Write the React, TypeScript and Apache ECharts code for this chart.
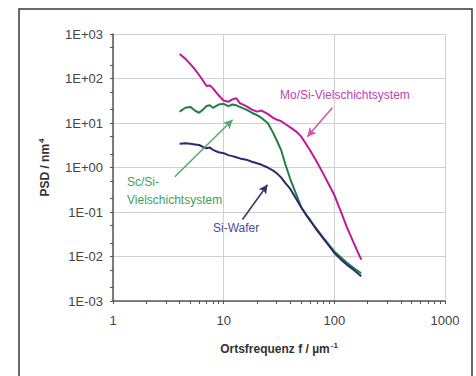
import React, { useEffect, useRef } from "react";
import * as echarts from "echarts";

const FREQ = [4, 4.5, 5, 5.5, 6, 6.5, 7, 7.5, 8, 9, 10, 11, 12, 13, 14, 16, 18, 20, 22, 25, 28, 30, 33, 36, 40, 45, 50, 55, 60, 70, 80, 90, 100, 115, 130, 150, 175];
const MO_SI = [355, 280, 210, 160, 120, 90, 68, 70, 60, 42, 32, 30, 34, 36, 28, 24, 20, 18, 19, 16, 13, 12, 11, 9.5, 8, 6.5, 5, 3.5, 2.5, 1.3, 0.7, 0.4, 0.24, 0.1, 0.045, 0.02, 0.0085];
const SC_SI = [18, 22, 23, 19, 17, 20, 24, 25, 22, 26, 27, 24, 26, 25, 23, 20, 17, 15, 13, 10, 6, 4.2, 2.5, 1.2, 0.55, 0.26, 0.13, 0.09, 0.065, 0.04, 0.026, 0.018, 0.013, 0.0095, 0.0072, 0.0055, 0.0042];
const SI_WAFER = [3.4, 3.5, 3.4, 3.3, 3.2, 2.9, 2.7, 2.8, 2.5, 2.2, 2.1, 1.9, 1.8, 1.7, 1.6, 1.5, 1.35, 1.25, 1.15, 1.0, 0.85, 0.75, 0.6, 0.45, 0.33, 0.2, 0.13, 0.09, 0.068, 0.038, 0.025, 0.017, 0.012, 0.0085, 0.0065, 0.005, 0.0036];

const X_MIN = 1, X_MAX = 1000, Y_MIN = 0.001, Y_MAX = 1000;
const X_TICKS = [1, 2, 3, 4, 5, 6, 7, 8, 9, 10, 20, 30, 40, 50, 60, 70, 80, 90, 100, 200, 300, 400, 500, 600, 700, 800, 900, 1000];
const Y_TICKS = [0.001, 0.002, 0.005, 0.01, 0.02, 0.05, 0.1, 0.2, 0.5, 1, 2, 5, 10, 20, 50, 100, 200, 500, 1000];
const X_LABELS = [1, 10, 100, 1000];
const Y_LABELS = [0.001, 0.01, 0.1, 1, 10, 100, 1000];

// annotation arrows [from, to] in data coordinates
const ARROW_MO = [[96, 22], [57, 4.9]];
const ARROW_SC = [[3.62, 0.62], [12.05, 11.8]];
const ARROW_SI = [[14.8, 0.068], [24.9, 0.41]];

const FONT = "'Liberation Sans', Arial, sans-serif";

function fmtE(v: number) {
  const e = Math.round(Math.log10(v));
  return "1E" + (e >= 0 ? "+" : "-") + String(Math.abs(e)).padStart(2, "0");
}

function pairs(ys: number[]) {
  return FREQ.map((x, i) => [x, ys[i]]);
}

function arrowLine(a: number[][], color: string) {
  return {
    silent: true,
    symbol: ["none", "arrow"],
    symbolSize: [7, 9],
    label: { show: false },
    lineStyle: { color, width: 1.5, type: "solid" },
    data: [[{ coord: a[0] }, { coord: a[1] }]],
  };
}

const gridAxis = (min: number, max: number) => ({
  type: "log",
  logBase: 10,
  min,
  max,
  axisLine: { show: false },
  axisTick: { show: false },
  axisLabel: { show: false },
  splitLine: { show: true, lineStyle: { color: "#d0d0d0", width: 1 } },
});

export default function App() {
  const ref = useRef<HTMLDivElement>(null);
  useEffect(() => {
    const chart = echarts.init(ref.current!, null, { renderer: "svg" });
    chart.setOption({
      animation: false,
      backgroundColor: "#ffffff",
      grid: { left: 113, top: 34, width: 332, height: 267, containLabel: false },
      xAxis: [
        gridAxis(X_MIN, X_MAX),
        {
          type: "log",
          logBase: 10,
          min: X_MIN,
          max: X_MAX,
          position: "bottom",
          name: "{b|Ortsfrequenz f / µm}{s|-1}",
          nameLocation: "middle",
          nameGap: 40,
          nameTextStyle: {
            rich: {
              b: { fontFamily: FONT, fontSize: 12, fontWeight: "bold", color: "#333" },
              s: { fontFamily: FONT, fontSize: 8, fontWeight: "bold", color: "#333", padding: [0, 0, 8, 1] },
            },
          },
          axisLine: { lineStyle: { color: "#555", width: 1.5 } },
          axisTick: { show: true, length: 3, customValues: X_TICKS, lineStyle: { color: "#555" } },
          axisLabel: {
            fontFamily: FONT,
            fontSize: 13,
            color: "#444",
            margin: 13,
            customValues: X_LABELS,
            formatter: (v: number) => String(Math.round(v)),
          },
          splitLine: { show: false },
        },
      ],
      yAxis: [
        gridAxis(Y_MIN, Y_MAX),
        {
          type: "log",
          logBase: 10,
          min: Y_MIN,
          max: Y_MAX,
          position: "left",
          name: "{b|PSD / nm}{s|4}",
          nameLocation: "middle",
          nameGap: 60,
          nameTextStyle: {
            rich: {
              b: { fontFamily: FONT, fontSize: 12, fontWeight: "bold", color: "#333" },
              s: { fontFamily: FONT, fontSize: 8, fontWeight: "bold", color: "#333", padding: [0, 0, 8, 1] },
            },
          },
          axisLine: { show: true, lineStyle: { color: "#555", width: 1.5 } },
          axisTick: { show: true, length: 3, customValues: Y_TICKS, lineStyle: { color: "#555" } },
          axisLabel: { fontFamily: FONT, fontSize: 13, color: "#444", margin: 10, customValues: Y_LABELS, formatter: fmtE },
          splitLine: { show: false },
        },
      ],
      series: [
        {
          name: "Mo/Si-Vielschichtsystem",
          type: "line",
          xAxisIndex: 1,
          yAxisIndex: 1,
          data: pairs(MO_SI),
          showSymbol: false,
          lineStyle: { color: "#c0189c", width: 2 },
          markLine: arrowLine(ARROW_MO, "#cc55b0"),
        },
        {
          name: "Sc/Si-Vielschichtsystem",
          type: "line",
          xAxisIndex: 1,
          yAxisIndex: 1,
          data: pairs(SC_SI),
          showSymbol: false,
          lineStyle: { color: "#1f8044", width: 2 },
          markLine: arrowLine(ARROW_SC, "#4fa870"),
        },
        {
          name: "Si-Wafer",
          type: "line",
          xAxisIndex: 1,
          yAxisIndex: 1,
          data: pairs(SI_WAFER),
          showSymbol: false,
          lineStyle: { color: "#2a2a72", width: 2 },
          markLine: arrowLine(ARROW_SI, "#333366"),
        },
      ],
      graphic: [
        {
          type: "rect",
          shape: { x: 19, y: 9, width: 453, height: 380 },
          style: { fill: "none", stroke: "#3a3a3a", lineWidth: 1.5 },
          silent: true,
        },
        {
          type: "text",
          x: 280,
          y: 95,
          style: { text: "Mo/Si-Vielschichtsystem", fill: "#c23fb0", font: "12px " + FONT, textVerticalAlign: "middle" },
        },
        {
          type: "text",
          x: 127,
          y: 191,
          style: { text: "Sc/Si-\nVielschichtsystem", fill: "#3f9e62", font: "12px " + FONT, lineHeight: 18, textVerticalAlign: "middle" },
        },
        {
          type: "text",
          x: 213,
          y: 228,
          style: { text: "Si-Wafer", fill: "#4b4b9c", font: "12px " + FONT, textVerticalAlign: "middle" },
        },
      ],
    });
    return () => chart.dispose();
  }, []);
  return <div ref={ref} style={{ position: "fixed", left: 0, top: 0, width: 476, height: 376 }} />;
}
